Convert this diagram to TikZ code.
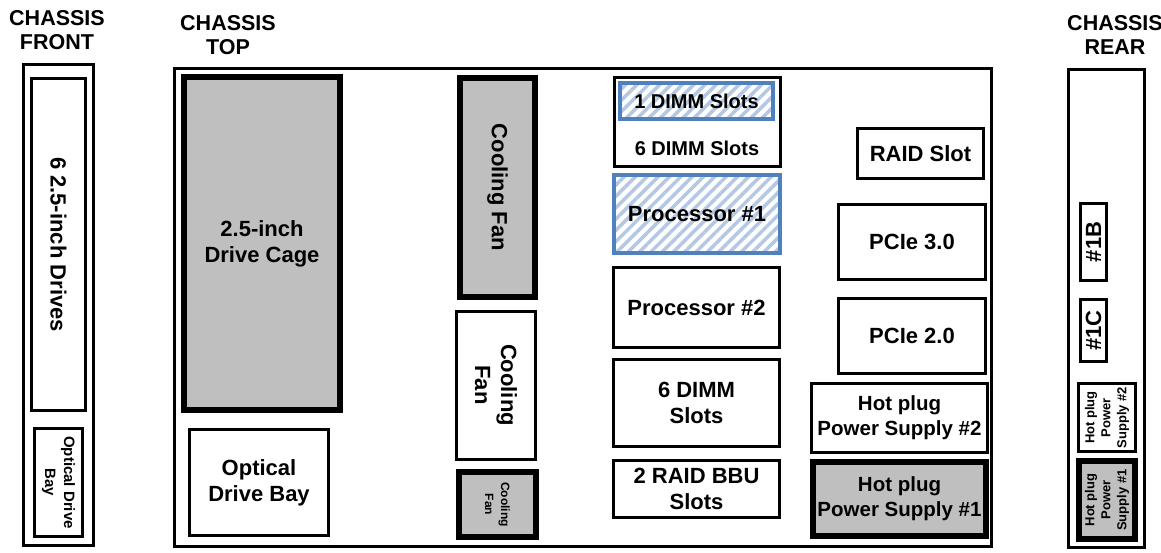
\documentclass[tikz,border=0pt]{standalone}
\usepackage{fontspec}
\setmainfont{Liberation Sans}
\usetikzlibrary{patterns.meta}
\definecolor{boxgray}{RGB}{191,191,191}
\definecolor{dimmblue}{RGB}{79,129,189}
\definecolor{hatchblue}{RGB}{180,200,228}
\tikzset{
  txt/.style={font=\bfseries\fontsize{22}{26}\selectfont, align=center, text=black},
  plainbox/.style={txt, draw, line width=3pt, fill=white, inner sep=0pt, rectangle},
  heavybox/.style={txt, draw, line width=6pt, fill=boxgray, inner sep=0pt, rectangle},
  hatchbox/.style={txt, draw=dimmblue, line width=4pt, inner sep=0pt, rectangle,
    pattern={Lines[angle=45,distance=8pt,line width=3.5pt]}, pattern color=hatchblue},
  title/.style={font=\bfseries\fontsize{21.5}{24}\selectfont, align=center},
  smalltxt/.style={font=\bfseries\fontsize{13}{16}\selectfont},
  psutxt/.style={font=\bfseries\fontsize{20.5}{25}\selectfont},
}
\begin{document}
\begin{tikzpicture}[x=1pt,y=-1pt]
\useasboundingbox (0,0) rectangle (1161,552);

% section headings
\node[title] (tfront) at (57,30) {CHASSIS\\FRONT};
\node[title] (ttop) at (228,35) {CHASSIS\\TOP};
\node[title] (trear) at (1115,35) {CHASSIS\\REAR};

% front panel
\node[plainbox, minimum width=70pt, minimum height=481pt] (front) at (58.5,305) {};
\node[plainbox, rotate=-90, minimum width=332pt, minimum height=54pt] (drives) at (58.5,244.5) {6 2.5-inch Drives};
\node[plainbox, rotate=-90, minimum width=108pt, minimum height=48pt,
      font=\bfseries\fontsize{15}{19}\selectfont] (fodd) at (58.5,482.5) {Optical Drive\\Bay};

% top view
\node[plainbox, minimum width=817pt, minimum height=478pt] (top) at (583,307.5) {};
\node[heavybox, minimum width=156pt, minimum height=333pt] (cage) at (262,243.5) {2.5-inch\\Drive Cage};
\node[plainbox, minimum width=139pt, minimum height=106pt] (odd) at (259,482.5) {Optical\\Drive Bay};

\node[heavybox, rotate=-90, minimum width=219pt, minimum height=75pt] (fan1) at (497.5,187.5) {Cooling Fan};
\node[plainbox, rotate=-90, minimum width=148pt, minimum height=79pt] (fan2) at (496,385) {Cooling\\Fan};
\node[heavybox, rotate=-90, minimum width=65pt, minimum height=77pt,
      font=\bfseries\fontsize{12}{16}\selectfont] (fan3) at (497.5,504.5) {Cooling\\Fan};

\node[plainbox, minimum width=166pt, minimum height=89pt] (dimmA) at (697.5,122) {};
\node[hatchbox, minimum width=153pt, minimum height=36pt, font=\bfseries\fontsize{20}{24}\selectfont] (dimm1) at (696.5,101) {1 DIMM Slots};
\node[txt, font=\bfseries\fontsize{20}{24}\selectfont] (dimm6) at (697,148) {6 DIMM Slots};
\node[hatchbox, minimum width=166pt, minimum height=78pt] (cpu1) at (697,214) {Processor \#1};
\node[plainbox, minimum width=166pt, minimum height=80pt] (cpu2) at (696.5,307.5) {Processor \#2};
\node[plainbox, minimum width=166pt, minimum height=87pt] (dimmB) at (696.5,403) {6 DIMM\\Slots};
\node[plainbox, minimum width=166pt, minimum height=57pt] (bbu) at (696.5,489) {2 RAID BBU\\Slots};

\node[plainbox, minimum width=126pt, minimum height=50pt] (raid) at (920.5,153.5) {RAID Slot};
\node[plainbox, minimum width=147pt, minimum height=75pt] (pcie3) at (912,242) {PCIe 3.0};
\node[plainbox, minimum width=147pt, minimum height=75pt] (pcie2) at (912,336) {PCIe 2.0};
\node[plainbox, psutxt, minimum width=176pt, minimum height=69pt] (psu2) at (899.5,418) {Hot plug\\Power Supply \#2};
\node[heavybox, psutxt, minimum width=173pt, minimum height=74pt] (psu1) at (899.5,499) {Hot plug\\Power Supply \#1};

% rear panel
\node[plainbox, minimum width=76pt, minimum height=478pt] (rear) at (1106.5,308.5) {};
\node[plainbox, rotate=90, minimum width=77pt, minimum height=26pt] (r1b) at (1093.5,242) {\#1B};
\node[plainbox, rotate=90, minimum width=62pt, minimum height=26pt] (r1c) at (1093.5,330.5) {\#1C};
\node[plainbox, rotate=90, minimum width=68pt, minimum height=57pt, smalltxt] (rpsu2) at (1107,417.5) {Hot plug\\Power\\Supply \#2};
\node[heavybox, rotate=90, minimum width=78pt, minimum height=56pt, smalltxt] (rpsu1) at (1107,500) {Hot plug\\Power\\Supply \#1};
\end{tikzpicture}
\end{document}
